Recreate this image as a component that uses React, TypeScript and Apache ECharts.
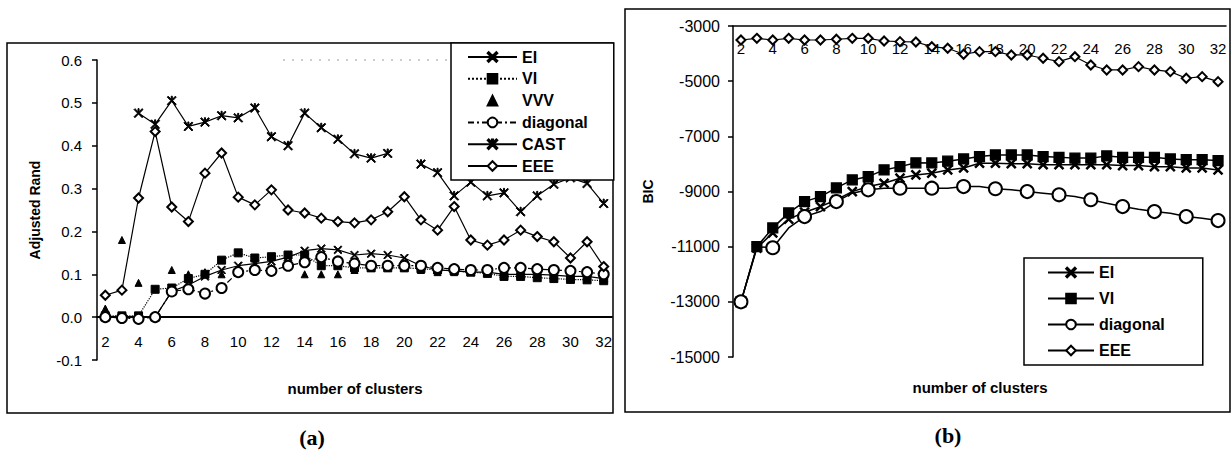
import React, { useEffect, useRef } from 'react';
import * as echarts from 'echarts';

const categories = ['2','3','4','5','6','7','8','9','10','11','12','13','14','15','16','17','18','19','20','21','22','23','24','25','26','27','28','29','30','31','32'];

// (a) Adjusted Rand
const aEI = [0.0,0.0,0.0,0.0,0.06,0.075,0.095,0.11,0.12,0.125,0.13,0.14,0.155,0.16,0.157,0.145,0.148,0.145,0.138,0.12,0.11,0.108,0.105,0.105,0.1,0.1,0.1,0.098,0.095,0.095,0.09];
const aVI = [0.003,0.003,0.003,0.065,0.068,0.09,0.1,0.133,0.15,0.138,0.141,0.145,0.145,0.12,0.12,0.115,0.115,0.115,0.115,0.113,0.11,0.108,0.105,0.102,0.095,0.095,0.092,0.09,0.088,0.087,0.085];
const aVVV = [0.02,0.18,0.08,null,0.11,0.1,0.105,0.1,0.11,0.12,0.115,0.12,0.1,0.1,0.1,0.11,0.115,0.12,0.12,0.11,0.105,0.105,0.105,0.105,0.1,0.1,0.1,0.095,0.095,0.095,0.095];
const aDiagonal = [0.0,-0.002,-0.004,0.0,0.06,0.065,0.055,0.068,0.105,0.11,0.108,0.12,0.128,0.14,0.13,0.125,0.12,0.12,0.12,0.12,0.115,0.112,0.11,0.11,0.115,0.115,0.112,0.11,0.108,0.105,0.1];
const aCAST = [null,null,0.476,0.45,0.505,0.445,0.455,0.47,0.465,0.488,0.421,0.4,0.476,0.442,0.415,0.381,0.371,0.382,null,0.357,0.337,0.283,0.315,0.283,0.29,0.246,0.283,0.31,0.325,0.312,0.265];
const aEEE = [0.051,0.063,0.278,0.433,0.257,0.223,0.336,0.383,0.28,0.262,0.297,0.25,0.243,0.231,0.223,0.22,0.227,0.246,0.281,0.227,0.203,0.258,0.18,0.168,0.18,0.203,0.188,0.176,0.138,0.176,0.118];

// (b) BIC
const bEI = [-13000,-11050,-10500,-10000,-9750,-9550,-9300,-9004,-8822,-8700,-8518,-8398,-8337,-8217,-8145,-7975,-7975,-7990,-7990,-8030,-8030,-8030,-8030,-8030,-8060,-8060,-8100,-8100,-8145,-8145,-8217];
const bVI = [-13000,-11000,-10320,-9775,-9366,-9185,-8870,-8580,-8460,-8217,-8098,-7960,-7964,-7900,-7820,-7735,-7674,-7674,-7674,-7735,-7760,-7790,-7790,-7710,-7760,-7760,-7760,-7820,-7845,-7845,-7880];
const bDiagonal = [-13000,-11000,-11040,-10320,-9910,-9728,-9366,-9060,-8940,-8880,-8880,-8880,-8880,-8880,-8822,-8822,-8900,-8940,-9004,-9060,-9120,-9185,-9300,-9425,-9547,-9640,-9728,-9790,-9910,-9970,-10055];
const bEEE = [-3507,-3446,-3507,-3446,-3507,-3507,-3480,-3446,-3446,-3543,-3567,-3580,-3750,-3808,-4025,-3930,-3930,-4050,-4050,-4170,-4293,-4112,-4413,-4594,-4594,-4474,-4594,-4655,-4895,-4836,-5018];

const legendA = ['EI', 'VI', 'VVV', 'diagonal', 'CAST', 'EEE'];
const legendB = ['EI', 'VI', 'diagonal', 'EEE'];

const FONT = 'Liberation Sans, Arial, sans-serif';
const xMark = 'path://M0,1L1,0L5,4L9,0L10,1L6,5L10,9L9,10L5,6L1,10L0,9L4,5Z';
const starMark = 'path://M0,1L1,0L4.4,3.4L4.4,0L5.6,0L5.6,3.4L9,0L10,1L6,5L10,9L9,10L5,6L1,10L0,9L4,5Z';

export default function App() {
  const ref = useRef<HTMLDivElement>(null);
  useEffect(() => {
    const chart = echarts.init(ref.current!, null, { renderer: 'svg' });
    const blk = '#000';
    const lineA = (name: string, data: any[], symbol: string, size: number, lt: any, extra: any = {}) => ({
      type: 'line', name, data, xAxisIndex: 0, yAxisIndex: 0, symbol, symbolSize: size,
      connectNulls: false,
      lineStyle: { color: blk, width: 1.2, type: lt },
      itemStyle: { color: blk, borderColor: blk, borderWidth: 1 },
      ...extra,
    });
    const lineB = (name: string, data: any[], symbol: string, size: number, extra: any = {}) => ({
      type: 'line', name: 'r:' + name, data, xAxisIndex: 1, yAxisIndex: 1, symbol, symbolSize: size,
      lineStyle: { color: blk, width: 1.5, type: 'solid' },
      itemStyle: { color: blk, borderColor: blk, borderWidth: 1.2 },
      ...extra,
    });
    const option: any = {
      animation: false,
      backgroundColor: '#fff',
      textStyle: { fontFamily: FONT, color: blk },
      grid: [
        { left: 97, top: 60, width: 515, height: 300 },
        { left: 733, top: 26, width: 493, height: 331 },
        // helper grid whose bottom edge sits on the zero line of (a)
        { left: 97, top: 60, width: 515, height: 257 },
      ],
      xAxis: [
        {
          gridIndex: 0, type: 'category', data: categories, boundaryGap: true,
          axisLine: { show: false }, axisTick: { show: false }, axisLabel: { show: false },
          splitLine: { show: false },
        },
        {
          gridIndex: 1, type: 'category', data: categories, boundaryGap: true, position: 'top',
          axisLine: { onZero: false, lineStyle: { color: blk, width: 1.5 } },
          axisTick: { inside: true, interval: 0, length: 5, lineStyle: { color: blk, width: 1.5 } },
          axisLabel: { inside: true, interval: 1, margin: 15, fontSize: 15, color: blk, fontFamily: FONT },
          splitLine: { show: false },
        },
        {
          gridIndex: 2, type: 'category', data: categories, boundaryGap: true, position: 'bottom',
          axisLine: { onZero: false, lineStyle: { color: blk, width: 2 } },
          axisTick: { interval: 0, length: 5, lineStyle: { color: blk, width: 1.5 } },
          axisLabel: { interval: 1, margin: 17, fontSize: 15, color: blk, fontFamily: FONT },
          splitLine: { show: false },
        },
      ],
      yAxis: [
        {
          gridIndex: 0, type: 'value', min: -0.1, max: 0.6, interval: 0.1,
          name: 'Adjusted Rand', nameLocation: 'middle', nameGap: 55,
          nameTextStyle: { fontSize: 14, fontWeight: 'bold', color: blk, fontFamily: FONT },
          axisLine: { show: true, onZero: false, lineStyle: { color: blk, width: 1.5 } },
          axisTick: { show: true, length: 5, lineStyle: { color: blk, width: 1.5 } },
          axisLabel: { margin: 15, fontSize: 15, color: blk, fontFamily: FONT, formatter: (v: number) => v.toFixed(1) },
          splitLine: { show: false },
        },
        {
          gridIndex: 1, type: 'value', min: -15000, max: -3000, interval: 2000,
          name: 'BIC', nameLocation: 'middle', nameGap: 78,
          nameTextStyle: { fontSize: 14, fontWeight: 'bold', color: blk, fontFamily: FONT },
          axisLine: { show: true, onZero: false, lineStyle: { color: blk, width: 1.5 } },
          axisTick: { show: true, length: 5, lineStyle: { color: blk, width: 1.5 } },
          axisLabel: { margin: 13, fontSize: 16, color: blk, fontFamily: FONT, formatter: (v: number) => String(v) },
          splitLine: { show: false },
        },
        {
          gridIndex: 2, type: 'value', min: 0, max: 1, show: false,
        },
      ],
      legend: [
        {
          data: legendA, orient: 'vertical', left: 451, top: 43,
          itemWidth: 49, itemHeight: 12, itemGap: 5.8, padding: [6, 26, 6, 16],
          borderColor: blk, borderWidth: 1.5, backgroundColor: '#fff', selectedMode: false,
          textStyle: { fontSize: 16, fontWeight: 'bold', color: blk, fontFamily: FONT },
        },
        {
          data: legendB.map((n) => 'r:' + n), orient: 'vertical', left: 1024, top: 258,
          formatter: (n: string) => n.replace('r:', ''),
          itemWidth: 46, itemHeight: 12, itemGap: 10, padding: [6.5, 38, 6.5, 23],
          borderColor: blk, borderWidth: 1.5, backgroundColor: '#fff', selectedMode: false,
          textStyle: { fontSize: 16, fontWeight: 'bold', color: blk, fontFamily: FONT },
        },
      ],
      series: [
        lineA('EI', aEI, xMark, 8, 'solid'),
        lineA('VI', aVI, 'rect', 8, 'dotted'),
        lineA('VVV', aVVV, 'triangle', 7, 'solid', { lineStyle: { width: 0, color: blk } }),
        lineA('diagonal', aDiagonal, 'emptyCircle', 10, [6, 3, 2, 3]),
        lineA('CAST', aCAST, starMark, 9, 'solid'),
        lineA('EEE', aEEE, 'emptyDiamond', 9, 'solid'),
        lineB('EI', bEI, xMark, 9),
        lineB('VI', bVI, 'rect', 10),
        lineB('diagonal', bDiagonal, 'emptyCircle', 13),
        lineB('EEE', bEEE, 'emptyDiamond', 9, { lineStyle: { color: blk, width: 1.2 } }),
      ],
      graphic: [
        { type: 'rect', shape: { x: 7, y: 43, width: 606, height: 370 }, style: { fill: 'none', stroke: blk, lineWidth: 1.5 }, z: 0 },
        { type: 'rect', shape: { x: 625, y: 9, width: 605, height: 403 }, style: { fill: 'none', stroke: blk, lineWidth: 1.5 }, z: 0 },
        { type: 'line', shape: { x1: 283, y1: 60, x2: 451, y2: 60 }, style: { stroke: '#999', lineWidth: 1, lineDash: [2, 7] } },
        { type: 'text', x: 355, y: 388, style: { text: 'number of clusters', font: `bold 15px ${FONT}`, fill: blk, textAlign: 'center', textVerticalAlign: 'middle' } },
        { type: 'text', x: 980, y: 387, style: { text: 'number of clusters', font: `bold 15px ${FONT}`, fill: blk, textAlign: 'center', textVerticalAlign: 'middle' } },
        { type: 'text', x: 312, y: 437, style: { text: '(a)', font: 'bold 22px Liberation Serif, serif', fill: blk, textAlign: 'center', textVerticalAlign: 'middle' } },
        { type: 'text', x: 948, y: 435, style: { text: '(b)', font: 'bold 22px Liberation Serif, serif', fill: blk, textAlign: 'center', textVerticalAlign: 'middle' } },
      ],
    };
    chart.setOption(option);
    return () => chart.dispose();
  }, []);
  return <div ref={ref} style={{ position: 'fixed', left: 0, top: 0, width: 1231, height: 463, background: '#fff' }} />;
}
